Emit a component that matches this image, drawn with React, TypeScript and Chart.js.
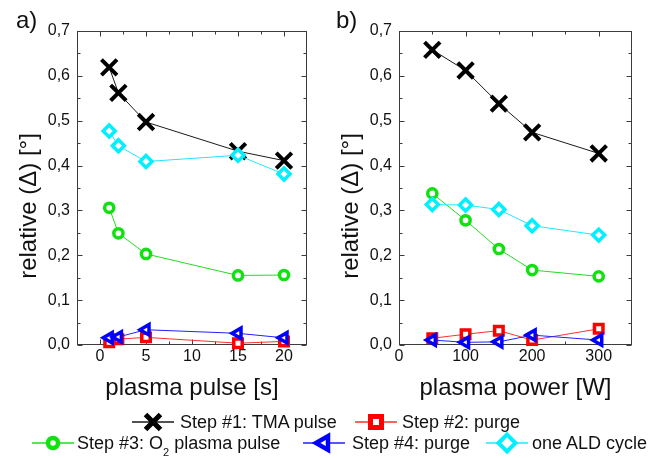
import React, { useEffect, useRef } from 'react';
import { Chart, registerables } from 'chart.js';

Chart.register(...registerables);

// ---------- data ----------
const pulseX = [1, 2, 5, 15, 20];
const powerX = [50, 100, 150, 200, 300];

const pulseTMA = [0.619, 0.562, 0.497, 0.432, 0.411];
const pulsePurge2 = [0.006, 0.013, 0.017, 0.004, 0.008];
const pulseO2 = [0.306, 0.249, 0.203, 0.155, 0.156];
const pulsePurge4 = [0.016, 0.018, 0.034, 0.026, 0.016];
const pulseALD = [0.477, 0.444, 0.409, 0.423, 0.381];

const powerTMA = [0.658, 0.612, 0.538, 0.474, 0.427];
const powerPurge2 = [0.015, 0.024, 0.032, 0.011, 0.036];
const powerO2 = [0.338, 0.278, 0.214, 0.167, 0.153];
const powerPurge4 = [0.011, 0.006, 0.007, 0.022, 0.011];
const powerALD = [0.313, 0.312, 0.302, 0.266, 0.245];

const yTicks = [0, 0.1, 0.2, 0.3, 0.4, 0.5, 0.6, 0.7];
const yMinorTicks = [0.05, 0.15, 0.25, 0.35, 0.45, 0.55, 0.65];
const pulseTicks = [0, 5, 10, 15, 20];
const pulseMinorTicks = [2.5, 7.5, 12.5, 17.5];
const powerTicks = [0, 100, 200, 300];
const powerMinorTicks = [50, 150, 250];

const seriesLabels = ['Step #1: TMA pulse', 'Step #2: purge', 'Step #3: O2 plasma pulse', 'Step #4: purge', 'one ALD cycle'];

// ---------- styles ----------
const FONT = "'Liberation Sans', Arial, Helvetica, sans-serif";
const TEXT = '#111';
const FRAME = '#3c3c3c';

const seriesStyles = [
  { color: '#000000', line: '#1a1a1a', style: 'crossRot', radius: 11, bw: 4, rotation: 0, order: 5 },
  { color: '#ff0000', line: '#ff3030', style: 'rect', radius: 6, bw: 3.5, rotation: 0, order: 4 },
  { color: '#11e011', line: '#22dd22', style: 'circle', radius: 4.6, bw: 3.5, rotation: 0, order: 3 },
  { color: '#0000ff', line: '#2020ff', style: 'triangle', radius: 6, bw: 3.5, rotation: -90, order: 2 },
  { color: '#00f0ff', line: '#22e6ff', style: 'rectRot', radius: 6, bw: 3.5, rotation: 0, order: 1 },
];

const framePlugin = {
  id: 'frame',
  beforeDatasetsDraw(chart: any, _args: any, opts: any) {
    const { ctx, chartArea } = chart;
    const { left, right, top, bottom } = chartArea;
    const xs = chart.scales.x;
    const ys = chart.scales.y;
    ctx.save();
    ctx.strokeStyle = FRAME;
    ctx.lineWidth = 1;
    const L = Math.round(left) + 0.5;
    const R = Math.round(right) - 0.5;
    const T = Math.round(top) + 0.5;
    const B = Math.round(bottom) - 0.5;
    ctx.strokeRect(L, T, R - L, B - T);
    const major = 5;
    const minor = 3;
    ctx.beginPath();
    const xMaj = opts.xMajor as number[];
    const xMin = opts.xMinor as number[];
    const yMaj = opts.yMajor as number[];
    const yMin = opts.yMinor as number[];
    const vx = (v: number, len: number) => {
      const p = Math.round(xs.getPixelForValue(v)) + 0.5;
      ctx.moveTo(p, B); ctx.lineTo(p, B - len);
      ctx.moveTo(p, T); ctx.lineTo(p, T + len);
    };
    const vy = (v: number, len: number) => {
      const p = Math.round(ys.getPixelForValue(v)) + 0.5;
      ctx.moveTo(L, p); ctx.lineTo(L + len, p);
      ctx.moveTo(R, p); ctx.lineTo(R - len, p);
    };
    xMaj.forEach((v) => vx(v, major));
    xMin.forEach((v) => vx(v, minor));
    yMaj.forEach((v) => vy(v, major));
    yMin.forEach((v) => vy(v, minor));
    ctx.stroke();
    ctx.restore();
  },
};

type PanelProps = {
  xs: number[];
  values: number[][];
  xMin: number;
  xMax: number;
  xTicks: number[];
  xMinor: number[];
  xTitle: string;
  left: number;
  width: number;
  rightPad: number;
};

function Panel(p: PanelProps) {
  const ref = useRef<HTMLCanvasElement>(null);
  useEffect(() => {
    const chart = new Chart(ref.current as HTMLCanvasElement, {
      type: 'line',
      data: {
        datasets: p.values.map((vals, i) => {
          const s = seriesStyles[i];
          return {
            label: seriesLabels[i],
            data: p.xs.map((x, j) => ({ x, y: vals[j] })),
            borderColor: s.line,
            backgroundColor: '#ffffff',
            borderWidth: 1,
            pointStyle: s.style,
            pointRadius: s.radius,
            pointBorderWidth: s.bw,
            pointRotation: s.rotation,
            pointBackgroundColor: '#ffffff',
            pointBorderColor: s.color,
            pointHoverRadius: s.radius,
            order: s.order,
            clip: false,
            tension: 0,
          } as any;
        }),
      },
      options: {
        responsive: false,
        animation: false,
        events: [],
        layout: { padding: { left: 0, top: 31, right: p.rightPad, bottom: 0 } },
        plugins: {
          legend: { display: false },
          tooltip: { enabled: false },
          frame: { xMajor: p.xTicks, xMinor: p.xMinor, yMajor: yTicks, yMinor: yMinorTicks },
        } as any,
        scales: {
          x: {
            type: 'linear',
            min: p.xMin,
            max: p.xMax,
            afterBuildTicks: (s: any) => {
              s.ticks = p.xTicks.map((v) => ({ value: v }));
            },
            afterFit: (s: any) => {
              s.height = 70;
            },
            grid: { display: false, drawTicks: false, tickLength: 0 },
            border: { display: false },
            ticks: {
              color: TEXT,
              font: { family: FONT, size: 16 },
              padding: 2,
              maxRotation: 0,
              autoSkip: false,
              callback: (v: any) => String(v),
            },
            title: {
              display: true,
              text: p.xTitle,
              color: TEXT,
              font: { family: FONT, size: 24 },
              padding: { top: 0, bottom: 12 },
            },
          },
          y: {
            type: 'linear',
            min: 0,
            max: 0.7,
            afterBuildTicks: (s: any) => {
              s.ticks = yTicks.map((v) => ({ value: v }));
            },
            afterFit: (s: any) => {
              s.width = 77;
            },
            grid: { display: false, drawTicks: false, tickLength: 0 },
            border: { display: false },
            ticks: {
              color: TEXT,
              font: { family: FONT, size: 16 },
              padding: 7,
              autoSkip: false,
              callback: (v: any) => Number(v).toFixed(1).replace('.', ','),
            },
          },
        },
      } as any,
      plugins: [framePlugin as any],
    });
    return () => chart.destroy();
  }, []);
  return (
    <canvas
      ref={ref}
      width={p.width}
      height={415}
      style={{ position: 'absolute', left: p.left, top: 0, width: p.width, height: 415 }}
    />
  );
}

// legend layout
const legendItems = [
  { idx: 0, row: 0, cx: 153, tx: 180 },
  { idx: 1, row: 0, cx: 376, tx: 402 },
  { idx: 2, row: 1, cx: 53, tx: 77 },
  { idx: 3, row: 1, cx: 324, tx: 352 },
  { idx: 4, row: 1, cx: 507, tx: 532 },
];
const LEGEND_TOP = 405;
const rowY = [422, 443];

function Legend() {
  const ref = useRef<HTMLCanvasElement>(null);
  useEffect(() => {
    const c = ref.current as HTMLCanvasElement;
    const ctx = c.getContext('2d') as CanvasRenderingContext2D;
    ctx.clearRect(0, 0, c.width, c.height);
    legendItems.forEach((it) => {
      const s = seriesStyles[it.idx];
      const x = it.cx;
      const y = rowY[it.row] - LEGEND_TOP;
      ctx.save();
      ctx.strokeStyle = s.line;
      ctx.lineWidth = 1.5;
      ctx.beginPath();
      ctx.moveTo(x - 21, y);
      ctx.lineTo(x + 21, y);
      ctx.stroke();
      ctx.strokeStyle = s.color;
      ctx.fillStyle = '#ffffff';
      ctx.beginPath();
      if (s.style === 'crossRot') {
        ctx.lineWidth = 5;
        const r = 7.5;
        ctx.moveTo(x - r, y - r); ctx.lineTo(x + r, y + r);
        ctx.moveTo(x + r, y - r); ctx.lineTo(x - r, y + r);
        ctx.stroke();
      } else if (s.style === 'rect') {
        ctx.lineWidth = 5;
        ctx.rect(x - 5.5, y - 5.5, 11, 11);
        ctx.fill(); ctx.stroke();
      } else if (s.style === 'circle') {
        ctx.lineWidth = 4.5;
        ctx.arc(x, y, 5, 0, Math.PI * 2);
        ctx.fill(); ctx.stroke();
      } else if (s.style === 'triangle') {
        ctx.lineWidth = 4.5;
        const r = 8;
        ctx.moveTo(x - r, y);
        ctx.lineTo(x + r * 0.5, y - r * 0.866);
        ctx.lineTo(x + r * 0.5, y + r * 0.866);
        ctx.closePath();
        ctx.fill(); ctx.stroke();
      } else if (s.style === 'rectRot') {
        ctx.lineWidth = 4;
        const r = 8.5;
        ctx.moveTo(x - r, y); ctx.lineTo(x, y - r); ctx.lineTo(x + r, y); ctx.lineTo(x, y + r);
        ctx.closePath();
        ctx.fill(); ctx.stroke();
      }
      ctx.restore();
    });
  }, []);
  const textStyle = (it: any): React.CSSProperties => ({
    position: 'absolute',
    left: it.tx,
    top: rowY[it.row] - 11,
    fontFamily: FONT,
    fontSize: 18,
    lineHeight: '22px',
    color: TEXT,
    whiteSpace: 'nowrap',
  });
  return (
    <>
      <canvas
        ref={ref}
        width={651}
        height={53}
        style={{ position: 'absolute', left: 0, top: LEGEND_TOP, width: 651, height: 53 }}
      />
      {legendItems.map((it) => (
        <div key={it.idx} style={textStyle(it)}>
          {it.idx === 2 ? (
            <>
              Step #3: O
              <sub style={{ fontSize: 11, lineHeight: 0, verticalAlign: -7 }}>2</sub> plasma pulse
            </>
          ) : (
            seriesLabels[it.idx]
          )}
        </div>
      ))}
    </>
  );
}

function YTitle({ cx, cy }: { cx: number; cy: number }) {
  return (
    <div
      style={{
        position: 'absolute',
        left: cx,
        top: cy,
        transform: 'translate(-50%, -50%) rotate(-90deg)',
        fontFamily: FONT,
        fontSize: 24,
        lineHeight: '24px',
        color: TEXT,
        whiteSpace: 'nowrap',
      }}
    >
      relative (Δ) [°]
    </div>
  );
}

function PanelLabel({ x, text }: { x: number; text: string }) {
  return (
    <div
      style={{
        position: 'absolute',
        left: x,
        top: 8,
        fontFamily: FONT,
        fontSize: 24,
        lineHeight: '24px',
        color: TEXT,
      }}
    >
      {text}
    </div>
  );
}

export default function App() {
  return (
    <div
      style={{
        position: 'fixed',
        left: 0,
        top: 0,
        width: 651,
        height: 458,
        background: '#ffffff',
        overflow: 'hidden',
      }}
    >
      <Panel
        xs={pulseX}
        values={[pulseTMA, pulsePurge2, pulseO2, pulsePurge4, pulseALD]}
        xMin={-2.5}
        xMax={22.5}
        xTicks={pulseTicks}
        xMinor={pulseMinorTicks}
        xTitle="plasma pulse [s]"
        left={0}
        width={322}
        rightPad={12}
      />
      <Panel
        xs={powerX}
        values={[powerTMA, powerPurge2, powerO2, powerPurge4, powerALD]}
        xMin={0}
        xMax={350}
        xTicks={powerTicks}
        xMinor={powerMinorTicks}
        xTitle="plasma power [W]"
        left={322}
        width={329}
        rightPad={19}
      />
      <YTitle cx={28} cy={206} />
      <YTitle cx={350} cy={206} />
      <PanelLabel x={16} text="a)" />
      <PanelLabel x={336} text="b)" />
      <Legend />
    </div>
  );
}
